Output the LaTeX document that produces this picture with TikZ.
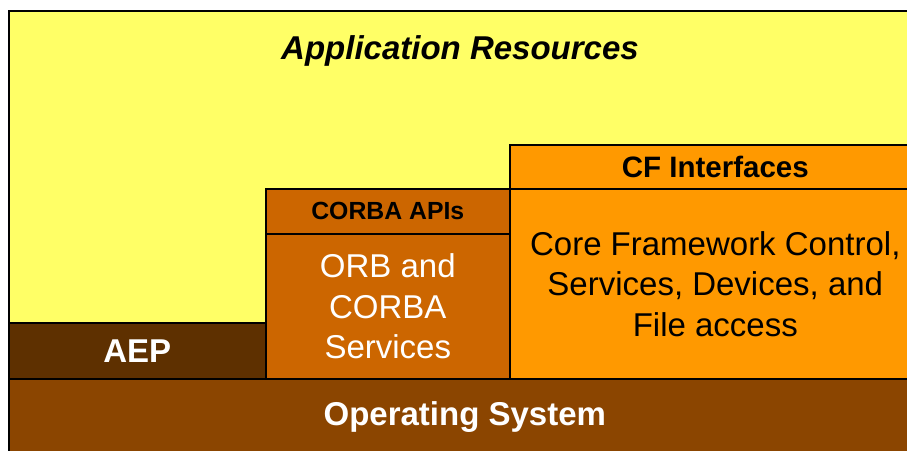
\documentclass[tikz,border=0pt]{standalone}
\usepackage{fontspec}
\setmainfont{Liberation Sans}
\definecolor{appyellow}{HTML}{FFFF66}
\definecolor{aepbrown}{HTML}{5E3000}
\definecolor{osbrown}{HTML}{8B4500}
\definecolor{orbrust}{HTML}{CC6600}
\definecolor{cforange}{HTML}{FF9900}
\tikzset{
  block/.style={draw=black, line width=1.6pt, rectangle, inner sep=0pt,
    anchor=north west, align=center},
  big/.style={font=\fontsize{33}{40.5}\selectfont},
  bigbold/.style={font=\fontsize{33}{40.5}\selectfont\bfseries},
}
\begin{document}
\begin{tikzpicture}[x=1pt,y=-1pt]
  \clip (0,0) rectangle (907,450);
  \node[block, fill=appyellow, minimum width=912pt, minimum height=444pt] (apps) at (8,10) {};
  \node[font=\fontsize{33}{40}\selectfont\bfseries\itshape] (appstitle) at (460,51) {Application Resources};
  \node[block, fill=osbrown, text=white, bigbold, minimum width=912pt, minimum height=76pt] (os) at (8,378) {Operating System};
  \node[block, fill=aepbrown, text=white, bigbold, minimum width=257pt, minimum height=56pt] (aep) at (8,322) {AEP};
  \node[block, fill=orbrust, font=\fontsize{24.8}{28}\selectfont\bfseries, minimum width=244pt, minimum height=45pt] (corbaapi) at (265,188) {CORBA APIs};
  \node[block, fill=orbrust, text=white, big, minimum width=244pt, minimum height=145pt] (orb) at (265,233) {ORB and\\CORBA\\Services};
  \node[block, fill=cforange, font=\fontsize{29.5}{32}\selectfont\bfseries, minimum width=411pt, minimum height=44pt] (cfif) at (509,144) {CF Interfaces};
  \node[block, fill=cforange, big, minimum width=411pt, minimum height=190pt] (core) at (509,188) {Core Framework Control,\\Services, Devices, and\\File access};
\end{tikzpicture}
\end{document}
